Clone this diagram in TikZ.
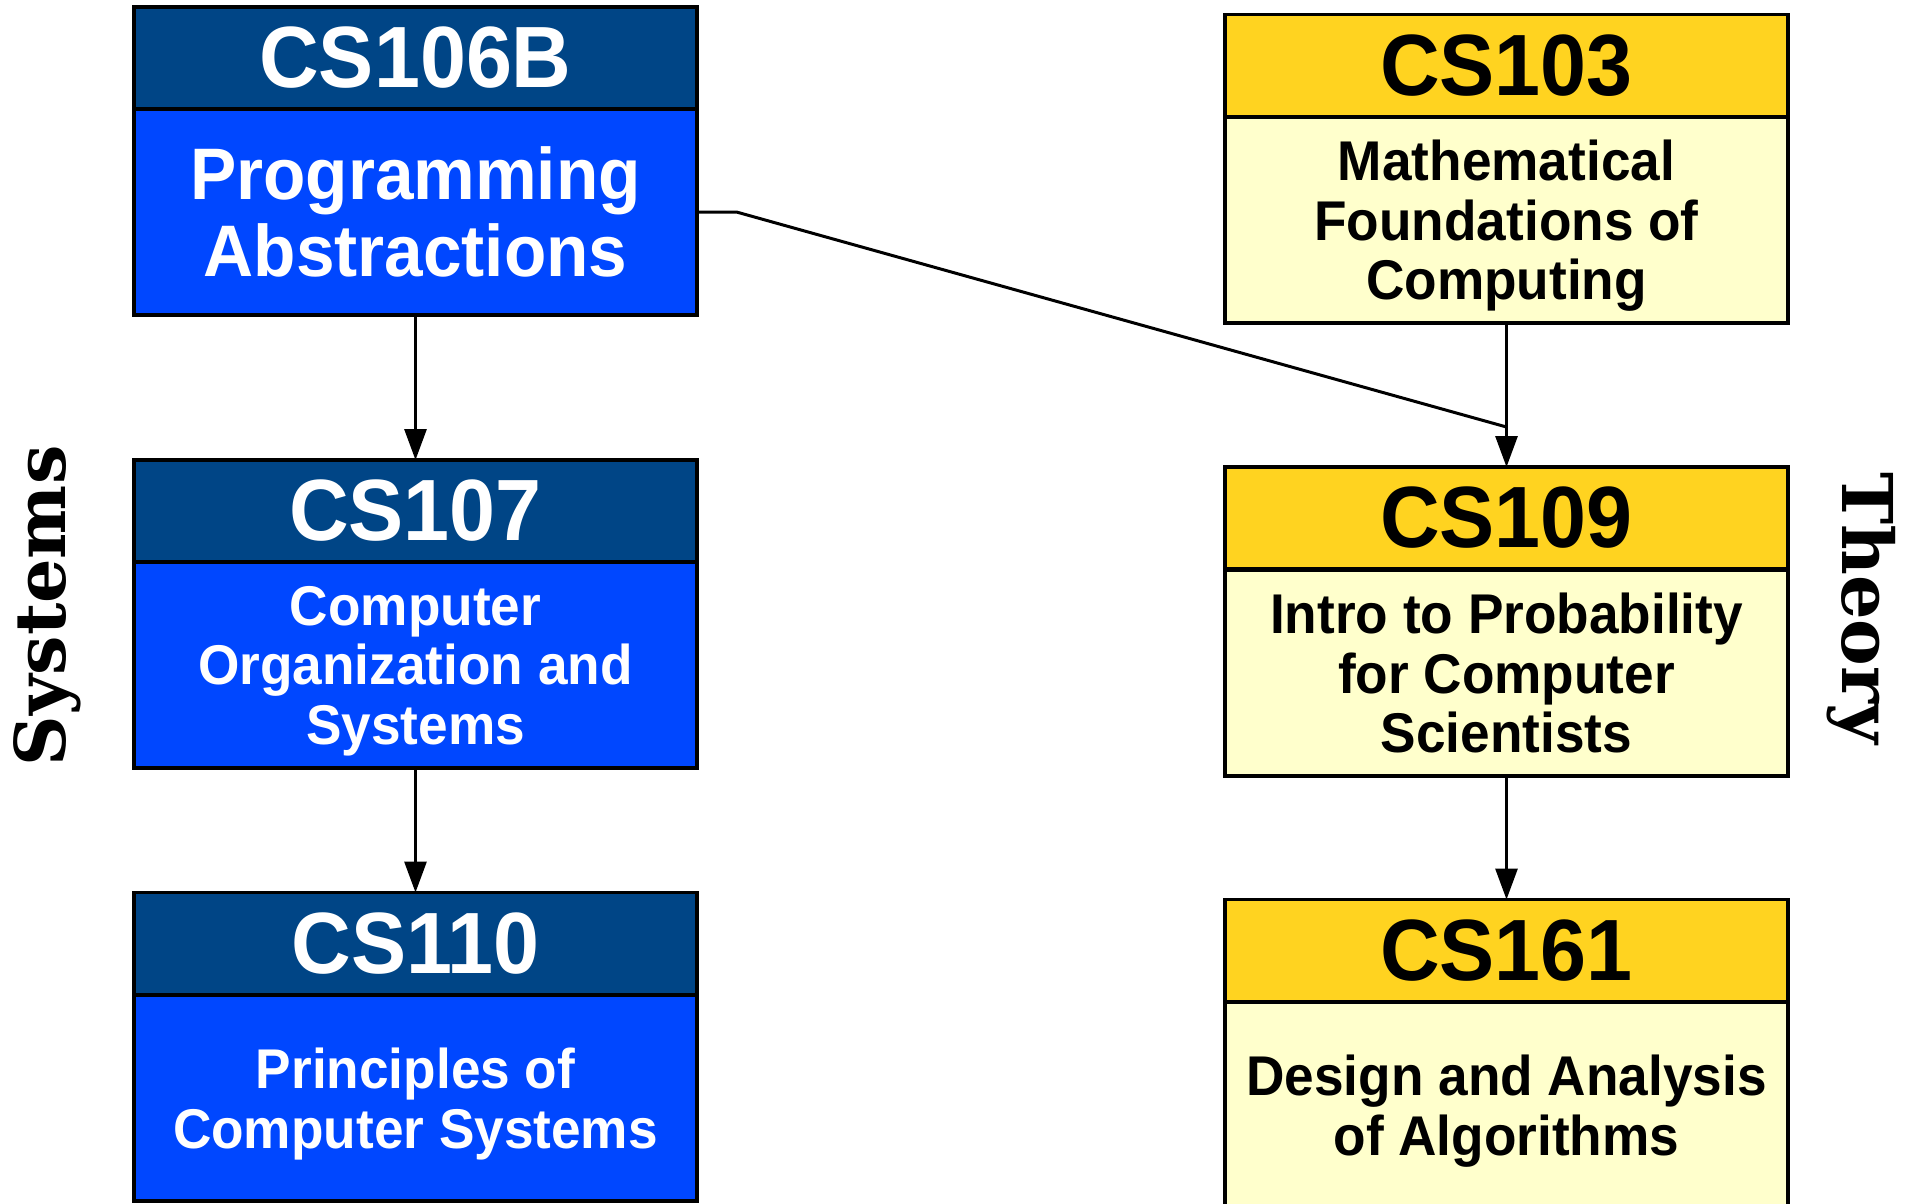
\documentclass[tikz,border=0pt]{standalone}
\usepackage{fontspec}
\setmainfont{Liberation Sans}[FakeStretch=0.95]
\newfontfamily\sideserif{DejaVu Serif}
\usetikzlibrary{arrows.meta}
\definecolor{hdrblue}{RGB}{0,69,134}
\definecolor{bodyblue}{RGB}{0,71,255}
\definecolor{hdryel}{RGB}{255,211,32}
\definecolor{bodyyel}{RGB}{255,255,204}
\tikzset{
  box/.style={draw=black, line width=3.5pt, rectangle, minimum width=563pt, inner sep=0pt, outer sep=0pt, align=center, font=\bfseries},
  hdr/.style={box, minimum height=102pt, font=\bfseries\fontsize{87}{90}\selectfont},
  bodytxt/.style={box, minimum height=206pt, text depth=0pt, font=\bfseries\fontsize{56}{59.5}\selectfont},
  hdrB/.style={hdr, fill=hdrblue, text=white},
  bodyB/.style={bodytxt, fill=bodyblue, text=white},
  hdrY/.style={hdr, fill=hdryel, text=black},
  bodyY/.style={bodytxt, fill=bodyyel, text=black},
  conn/.style={draw=black, line width=3pt},
  arr/.style={conn, -{Triangle[length=31pt, width=22pt]}},
  side/.style={font=\sideserif\bfseries\fontsize{70}{72}\selectfont, inner sep=0pt, anchor=base}
}
\begin{document}
\begin{tikzpicture}[x=1pt, y=-1pt]
\useasboundingbox (0,0) rectangle (1913,1203);
\clip (0,0) rectangle (1913,1203);
% left column
\node[bodyB, minimum height=206pt, font=\bfseries\fontsize{73}{77}\selectfont] (b106) at (415.5,212) {Programming\\Abstractions};
\node[hdrB] (h106) at (415.5,58) {CS106B};
\node[bodyB] (b107) at (415.5,665) {Computer\\Organization and\\Systems};
\node[hdrB] (h107) at (415.5,511) {CS107};
\node[bodyB] (b110) at (415.5,1098) {Principles of\\Computer Systems};
\node[hdrB] (h110) at (415.5,943.5) {CS110};
% right column
\node[bodyY] (b103) at (1506.5,220) {Mathematical\\Foundations of\\Computing};
\node[hdrY] (h103) at (1506.5,65.5) {CS103};
\node[bodyY] (b109) at (1506.5,673) {Intro to Probability\\for Computer\\Scientists};
\node[hdrY] (h109) at (1506.5,518) {CS109};
\node[bodyY] (b161) at (1506.5,1105) {Design and Analysis\\of Algorithms};
\node[hdrY] (h161) at (1506.5,950.5) {CS161};
% side labels
\node[side, rotate=90] (sys) at (65,606) {Systems};
\node[side, rotate=-90] (thy) at (1842,608) {Theory};
% connectors
\draw[arr] (b106.south) -- (h107.north);
\draw[arr] (b107.south) -- (h110.north);
\draw[arr] (b103.south) -- (h109.north);
\draw[arr] (b109.south) -- (h161.north);
\coordinate (join) at (1506.5,427);
\coordinate (kink) at (736.5,212);
\draw[conn] (b106.east) -- (kink) -- (join);
\end{tikzpicture}
\end{document}
